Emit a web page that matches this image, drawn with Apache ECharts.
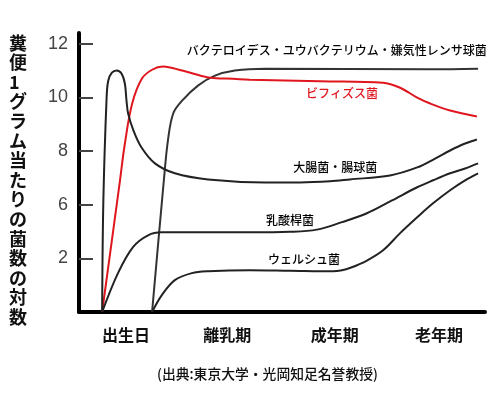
<!DOCTYPE html>
<html>
<head>
<meta charset="utf-8">
<script src="https://cdn.jsdelivr.net/npm/echarts@6/dist/echarts.min.js"></script>
<style>
  html, body { margin: 0; padding: 0; background: #fff; }
  #chart { width: 500px; height: 400px; }
</style>
</head>
<body>
<div id="chart"></div>
<script>
// x: 0..100 along the time axis, y: log count (axis bottom = 2)
var stageNames = ['出生日', '離乳期', '成年期', '老年期'];
var stagePos = [11.6, 36.5, 63, 88.7];

var yTickValues = [4, 6, 8, 10, 12];
var yTickLabels = ['2', '6', '8', '10', '12'];

var bacteroides = [
    [18.0, 2], [20.9, 6.91], [21.9, 8.39], [23.2, 9.40], [25.4, 9.88],
    [29.3, 10.44], [33.5, 10.81], [38.4, 11.0], [45.8, 11.07], [86.5, 11.05], [98.3, 11.07]
];
var bifidus = [
    [5.7, 2], [10.1, 6.91], [11.3, 8.28], [13.1, 9.77], [15.5, 10.70], [18.0, 11.03],
    [20.7, 11.15], [25.4, 11.0], [31.8, 10.74], [36.0, 10.70], [42.1, 10.66], [59.4, 10.60],
    [74.9, 10.55], [79.1, 10.36], [83.3, 9.99], [86.5, 9.77], [91.4, 9.51], [98.0, 9.29]
];
var coli = [
    [5.7, 2], [6.0, 6.16], [6.8, 9.99], [7.2, 10.62], [8.1, 10.92], [9.3, 11.0],
    [10.5, 10.88], [11.3, 10.51], [11.7, 9.88], [12.1, 9.40], [13.4, 8.77], [15.4, 8.13],
    [18.7, 7.54], [23.6, 7.17], [31.8, 6.94], [45.8, 6.83], [54.4, 6.83], [61.8, 6.87],
    [66.7, 6.94], [76.6, 7.09], [83.3, 7.39], [87.7, 7.72], [91.4, 8.02], [95.1, 8.28], [98.0, 8.43]
];
var lacto = [
    [5.7, 2], [9.6, 3.45], [13.3, 4.42], [17.0, 4.86], [20.4, 4.97], [42.1, 4.97],
    [51.9, 4.99], [58.6, 5.07], [64.8, 5.35], [70.9, 5.68], [77.1, 6.16], [83.3, 6.65],
    [87.2, 6.91], [91.4, 7.17], [95.1, 7.35], [98.3, 7.54]
];
var welch = [
    [18.0, 2], [20.4, 2.63], [23.6, 3.19], [27.8, 3.45], [31.8, 3.52], [42.1, 3.56],
    [52.0, 3.54], [62.6, 3.52], [64.8, 3.56], [66.7, 3.64], [70.7, 3.90], [74.9, 4.30],
    [79.1, 4.94], [83.3, 5.53], [87.2, 6.05], [91.4, 6.54], [95.1, 6.91], [98.3, 7.17]
];

var seriesNames = ['バクテロイデス・ユウバクテリウム・嫌気性レンサ球菌', 'ビフィズス菌', '大腸菌・腸球菌', '乳酸桿菌', 'ウェルシュ菌'];
var seriesData = [bacteroides, bifidus, coli, lacto, welch];
var seriesColors = ['#333', '#e0161e', '#222', '#222', '#222'];
// where each name is written, in data units
var nameAt = [[63.5, 11.74], [64.8, 10.14], [63.1, 7.39], [52.0, 5.42], [55.4, 3.97]];

var chart = echarts.init(document.getElementById('chart'));

var series = [];
for (var i = 0; i < seriesData.length; i++) {
    series.push({
        name: seriesNames[i],
        type: 'line',
        data: seriesData[i],
        smooth: 0.35,
        showSymbol: false,
        silent: true,
        lineStyle: { color: seriesColors[i], width: 2 },
        markPoint: {
            symbol: 'circle',
            symbolSize: 0,
            data: [{ coord: nameAt[i], value: seriesNames[i] }],
            label: {
                show: true,
                position: 'inside',
                formatter: seriesNames[i],
                fontFamily: 'Noto Sans CJK JP',
                fontSize: 12,
                fontWeight: 500,
                color: i == 1 ? '#e0161e' : '#000'
            }
        }
    });
}

var option = {
    backgroundColor: '#fff',
    animation: false,
    grid: { left: 79, right: 15, top: 33, bottom: 88 },
    xAxis: {
        type: 'value',
        min: 0,
        max: 100,
        splitLine: { show: false },
        axisLine: { show: true, lineStyle: { color: '#000', width: 4 } },
        axisTick: { show: false },
        axisLabel: {
            customValues: stagePos,
            formatter: function (v) {
                var k = stagePos.indexOf(v);
                return k >= 0 ? stageNames[k] : '';
            },
            margin: 15,
            fontFamily: 'Noto Sans CJK JP',
            fontSize: 16,
            fontWeight: 'bold',
            color: '#111'
        }
    },
    yAxis: {
        type: 'value',
        min: 2,
        max: 12.4,
        interval: 2,
        splitLine: { show: false },
        axisLine: { show: true, lineStyle: { color: '#000', width: 4 } },
        axisTick: {
            show: true,
            inside: true,
            length: 14,
            customValues: yTickValues,
            lineStyle: { color: '#444', width: 2 }
        },
        axisLabel: {
            customValues: yTickValues,
            formatter: function (v) {
                var k = yTickValues.indexOf(v);
                return k >= 0 ? yTickLabels[k] : '';
            },
            margin: 11,
            fontFamily: 'Liberation Sans',
            fontSize: 18,
            color: '#444'
        }
    },
    graphic: [
        {
            type: 'text',
            left: 9,
            top: 33,
            style: {
                text: '糞便1グラム当たりの菌数の対数'.split('').join('\n'),
                fontFamily: 'Noto Sans CJK JP',
                fontSize: 18,
                fontWeight: 'bold',
                lineHeight: 19.6,
                fill: '#111',
                align: 'center',
                width: 20
            }
        },
        {
            type: 'text',
            left: 157,
            top: 367,
            style: {
                text: '(出典:東京大学・光岡知足名誉教授)',
                fontFamily: 'Noto Sans CJK JP',
                fontSize: 13.8,
                fontWeight: 500,
                fill: '#111'
            }
        }
    ],
    series: series
};

chart.setOption(option);
</script>
</body>
</html>
